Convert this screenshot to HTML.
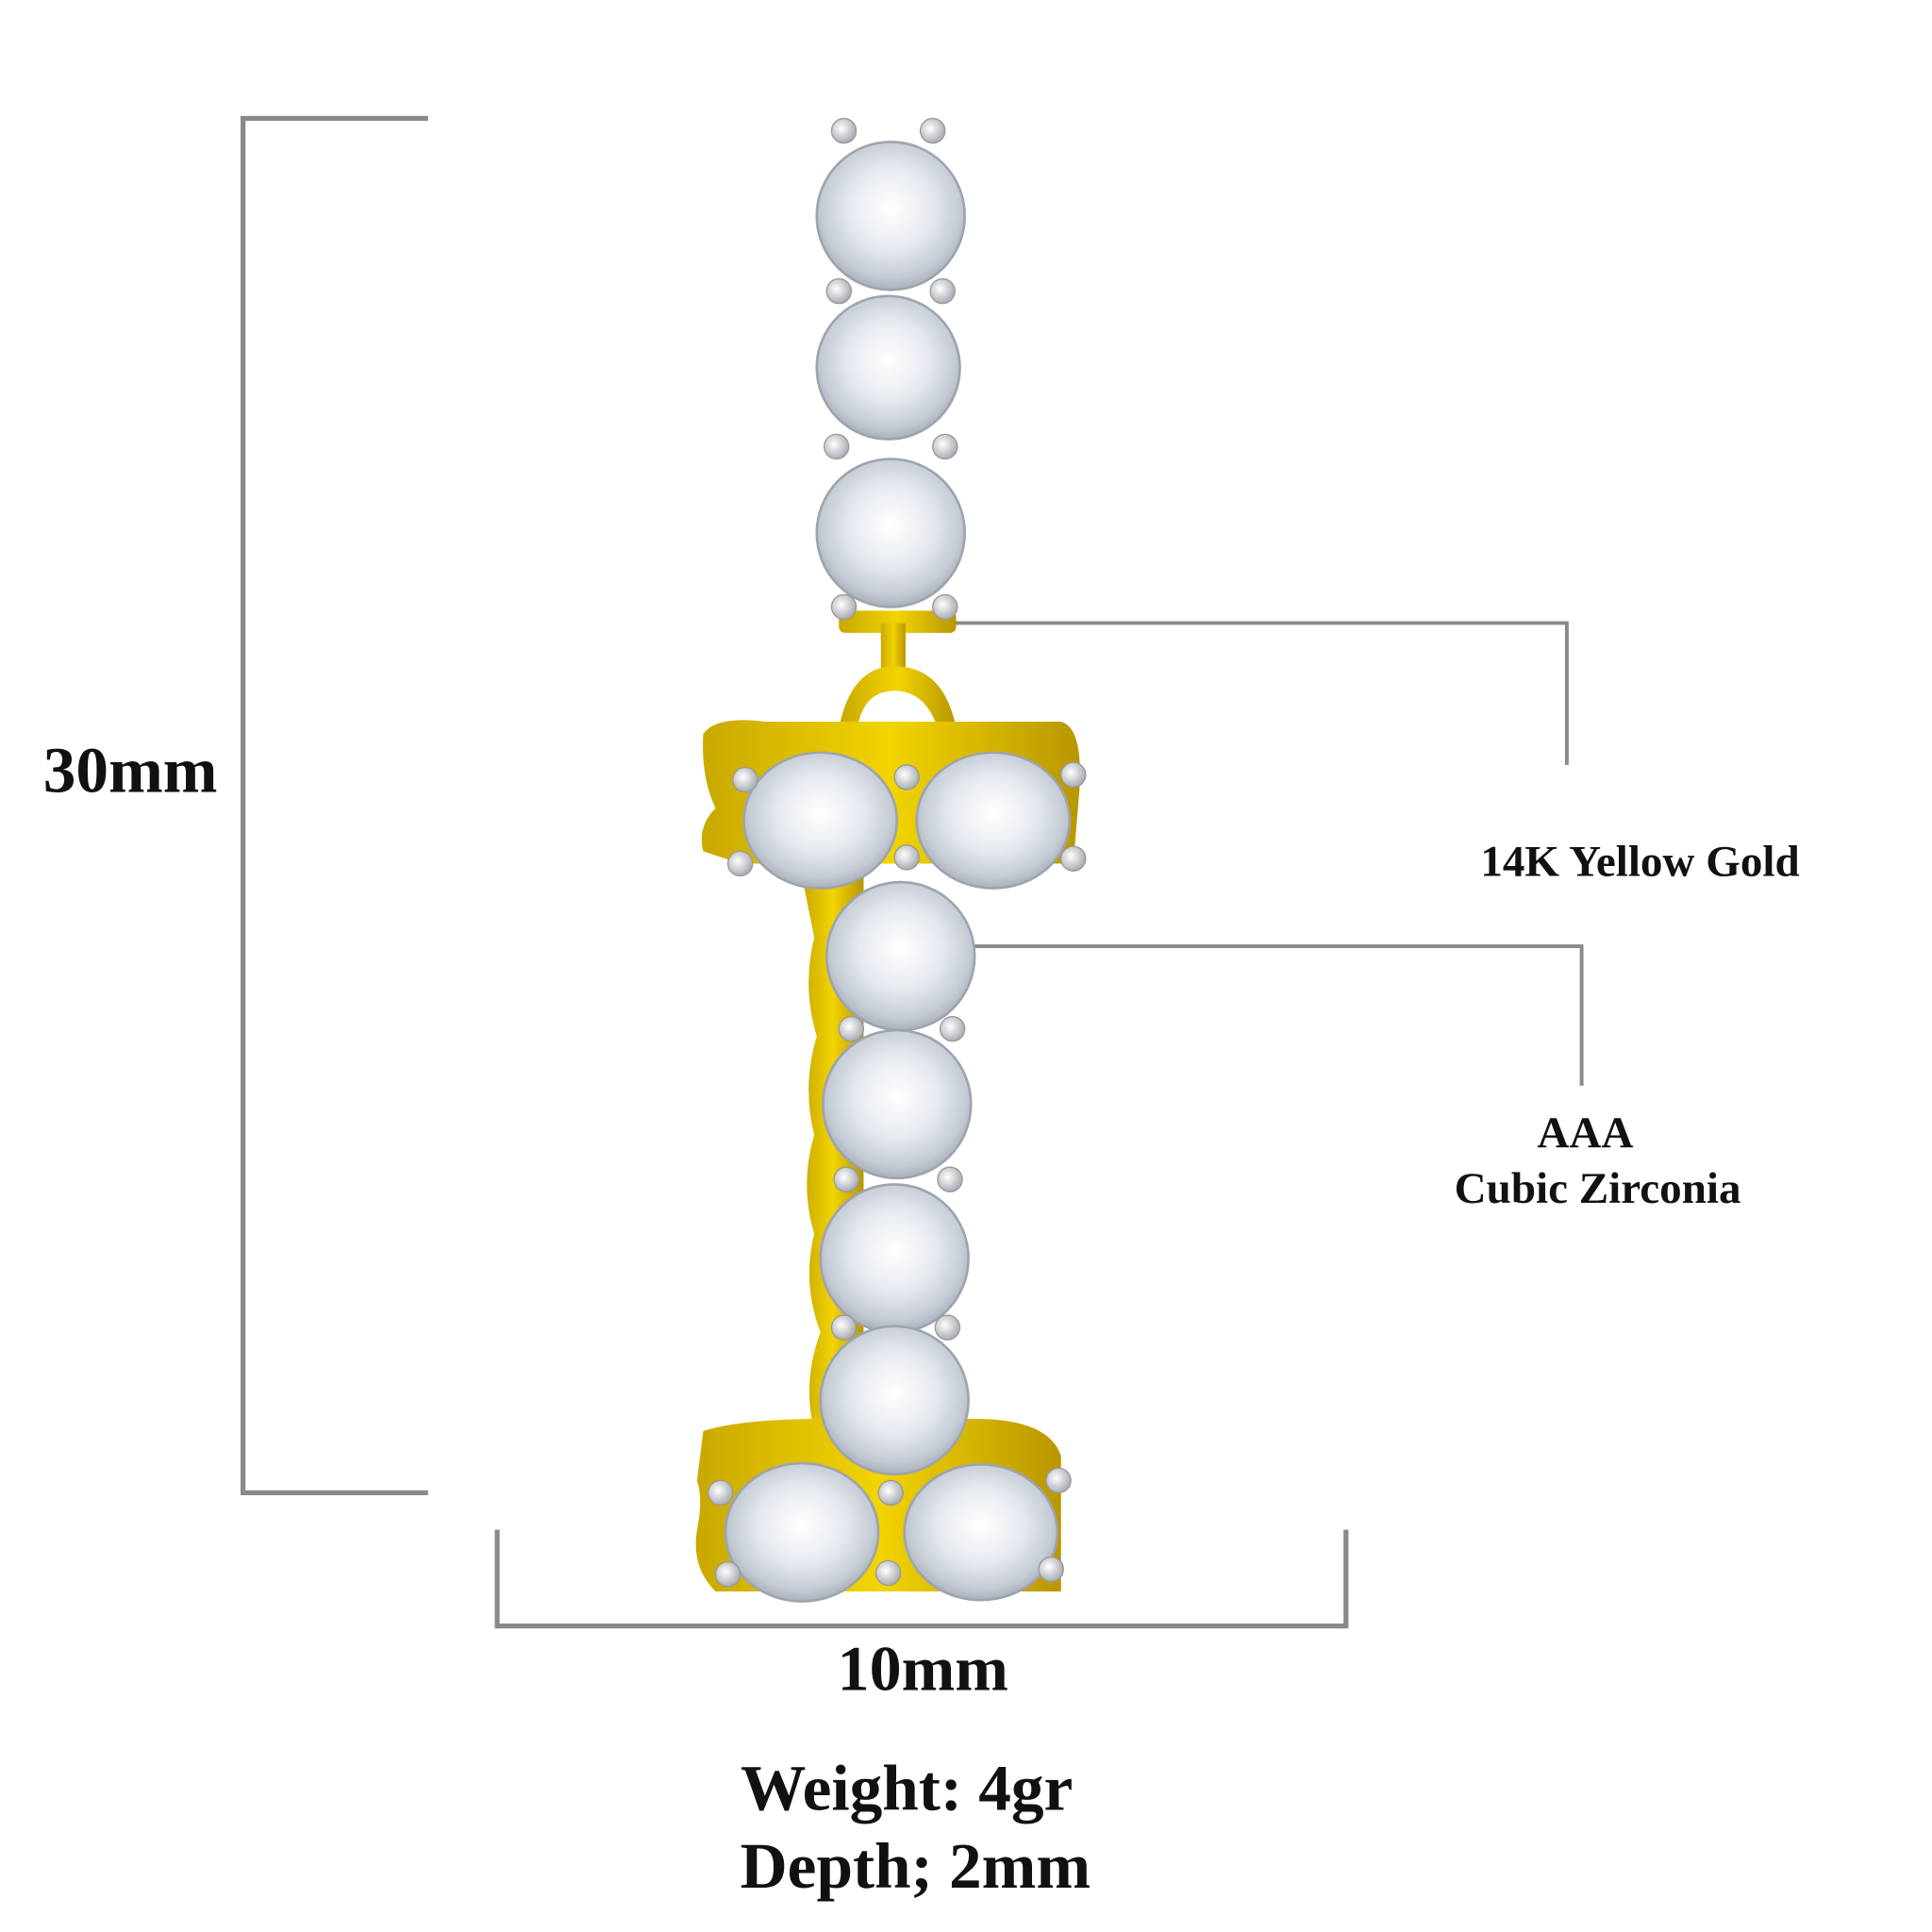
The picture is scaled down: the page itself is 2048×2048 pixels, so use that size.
<!DOCTYPE html>
<html><head><style>html,body{margin:0;padding:0;background:#fff}svg{display:block}</style></head>
<body>
<svg width="2048" height="2048" viewBox="0 0 1566 1566" xmlns="http://www.w3.org/2000/svg">
<defs>
<radialGradient id="st" cx="0.5" cy="0.45" r="0.55">
<stop offset="0" stop-color="#ffffff"/><stop offset="0.5" stop-color="#e6eaf0"/><stop offset="0.85" stop-color="#c5cbd4"/><stop offset="1" stop-color="#aab0ba"/></radialGradient>
<radialGradient id="pr" cx="0.4" cy="0.4" r="0.6"><stop offset="0" stop-color="#fff"/><stop offset="1" stop-color="#a9adb3"/></radialGradient>
<linearGradient id="gd" x1="0" y1="0" x2="1" y2="0"><stop offset="0" stop-color="#c9a800"/><stop offset="0.5" stop-color="#f2d400"/><stop offset="1" stop-color="#b89600"/></linearGradient>
</defs>
<g fill="none" stroke="#8a8a8a" stroke-width="4">
<polyline points="347,96 197,96 197,1210 347,1210"/>
<polyline points="403,1240 403,1318 1091,1318 1091,1240"/>
<polyline points="730,505 1270,505 1270,620" stroke-width="3"/>
<polyline points="790,767 1282,767 1282,880" stroke-width="3"/>
</g>
<g fill="url(#gd)">
<rect x="680" y="495" width="95" height="18" rx="5"/>
<rect x="714" y="505" width="20" height="50"/>
<path d="M680,590 Q690,540 725,540 Q765,540 775,590 L760,590 Q750,560 725,560 Q700,560 695,590 Z"/>
<path d="M570,595 Q580,580 620,585 L860,585 Q878,590 875,640 L870,700 L600,700 L570,690 Q565,670 580,655 Q568,630 570,595Z"/>
<path d="M650,710 L700,710 L700,1160 L660,1160 Q650,1120 665,1080 Q650,1040 660,1000 Q648,960 660,920 Q650,880 662,840 Q650,800 660,760 Z"/>
<path d="M570,1160 Q600,1150 670,1150 L790,1150 Q850,1150 860,1180 L860,1290 L580,1290 Q560,1270 565,1240 Q570,1215 565,1200 Z"/>
</g>
<g fill="url(#st)" stroke="#9ea4ad" stroke-width="2">
<circle cx="722" cy="175" r="60"/><circle cx="720" cy="298" r="58"/><circle cx="722" cy="432" r="60"/>
<ellipse cx="665" cy="665" rx="62" ry="55"/><ellipse cx="805" cy="665" rx="62" ry="55"/>
<circle cx="730" cy="775" r="60"/><circle cx="727" cy="895" r="60"/><circle cx="725" cy="1020" r="60"/><circle cx="725" cy="1135" r="60"/>
<ellipse cx="650" cy="1242" rx="62" ry="56"/><ellipse cx="795" cy="1242" rx="62" ry="55"/>
</g>
<g fill="url(#pr)" stroke="#999" stroke-width="1">
<circle cx="684" cy="106" r="10"/><circle cx="756" cy="106" r="10"/>
<circle cx="680" cy="236" r="10"/><circle cx="764" cy="236" r="10"/>
<circle cx="678" cy="362" r="10"/><circle cx="766" cy="362" r="10"/>
<circle cx="684" cy="492" r="10"/><circle cx="766" cy="492" r="10"/>
<circle cx="604" cy="632" r="10"/><circle cx="870" cy="628" r="10"/><circle cx="600" cy="700" r="10"/><circle cx="870" cy="696" r="10"/>
<circle cx="735" cy="630" r="10"/><circle cx="735" cy="695" r="10"/>
<circle cx="690" cy="834" r="10"/><circle cx="772" cy="834" r="10"/>
<circle cx="686" cy="956" r="10"/><circle cx="770" cy="956" r="10"/>
<circle cx="684" cy="1076" r="10"/><circle cx="768" cy="1076" r="10"/>
<circle cx="584" cy="1210" r="10"/><circle cx="858" cy="1200" r="10"/><circle cx="590" cy="1276" r="10"/><circle cx="852" cy="1272" r="10"/>
<circle cx="722" cy="1210" r="10"/><circle cx="720" cy="1275" r="10"/>
</g>
<g font-family="'Liberation Serif',serif" font-weight="bold" fill="#111">
<text x="35" y="642" font-size="53">30mm</text>
<text x="1200" y="710" font-size="36">14K Yellow Gold</text>
<text x="1285" y="930" font-size="36" text-anchor="middle">AAA</text>
<text x="1295" y="975" font-size="36" text-anchor="middle">Cubic Zirconia</text>
<text x="748" y="1370" font-size="52" text-anchor="middle">10mm</text>
<text x="735" y="1467" font-size="53" text-anchor="middle">Weight: 4gr</text>
<text x="742" y="1530" font-size="53" text-anchor="middle">Depth; 2mm</text>
</g>
</svg>
</body></html>
